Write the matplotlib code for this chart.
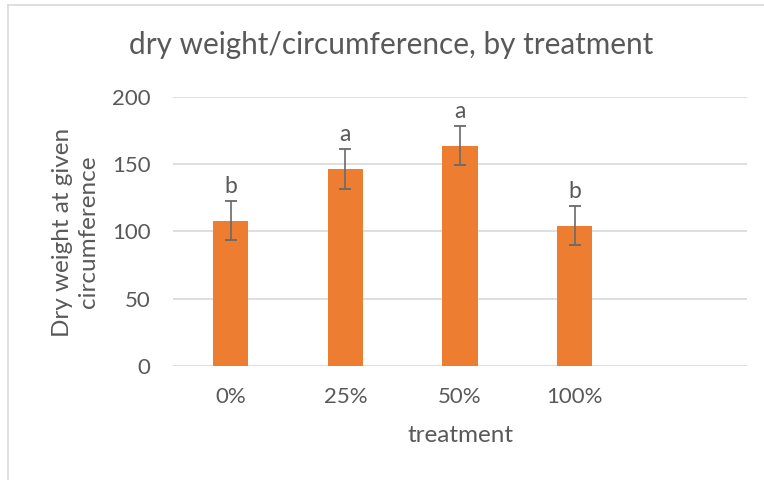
import matplotlib
matplotlib.use("Agg")
import matplotlib.pyplot as plt
from matplotlib.lines import Line2D
import numpy as np

categories = ["0%", "25%", "50%", "100%"]
values = [108.0, 146.3, 163.6, 104.3]
errors = [14.6, 14.5, 14.6, 14.6]
letters = ["b", "a", "a", "b"]
yticks = [0, 50, 100, 150, 200]

TEXT = "#595959"
GRID = "#d9d9d9"
BAR = "#ED7D31"
ERR = "#6a6a6a"

plt.rcParams['font.family'] = ['Lato', 'DejaVu Sans']

fig = plt.figure(figsize=(7.64, 4.8), dpi=100)
fig.patch.set_facecolor("white")

# chart frame (left + top edges visible)
fig.add_artist(Line2D([7.5/764, 7.5/764], [0, 1 - 5/480], transform=fig.transFigure, color=GRID, lw=1.2))
fig.add_artist(Line2D([7.5/764, 1], [1 - 5/480, 1 - 5/480], transform=fig.transFigure, color=GRID, lw=1.2))

ax = fig.add_axes([173.3/764, (480-366)/480, (746.7-173.3)/764, (366-96.7)/480])
x = np.arange(len(categories))
ax.bar(x, values, width=0.31, color=BAR, zorder=3)
ax.errorbar(x, values, yerr=errors, fmt="none", ecolor=ERR, elinewidth=1.2,
            capsize=4.3, capthick=1.3, zorder=4)
for xi, v, e, t in zip(x, values, errors, letters):
    ax.annotate(t, (xi, v + e), xytext=(0, 3), textcoords="offset points",
                ha="center", va="bottom", fontsize=16.5, color=TEXT)

ax.set_xlim(-0.5, 4.5)
ax.set_ylim(0, 200)
ax.set_yticks(yticks)
ax.set_xticks(x)
ax.set_xticklabels(categories)
for s in ax.spines.values():
    s.set_visible(False)
ax.grid(axis="y", color=GRID, lw=1.2, zorder=0)
ax.tick_params(axis="both", length=0, colors=TEXT, labelsize=16)
ax.tick_params(axis="x", pad=15)
ax.tick_params(axis="y", pad=16.5)
ax.set_axisbelow(True)

fig.text(460/764, 1 - 436/480, "treatment", ha="center", va="center", fontsize=17.5, color=TEXT)
fig.text(75.5/764, 1 - 232/480, "Dry weight at given\ncircumference", ha="center", va="center",
         rotation=90, fontsize=17.5, color=TEXT, linespacing=1.35)

fig.text(391/764, 1 - 45/480, "dry weight/circumference, by treatment", ha="center", va="center",
         fontsize=21.4, color=TEXT)

fig.savefig("out.png", dpi=100, facecolor="white")
